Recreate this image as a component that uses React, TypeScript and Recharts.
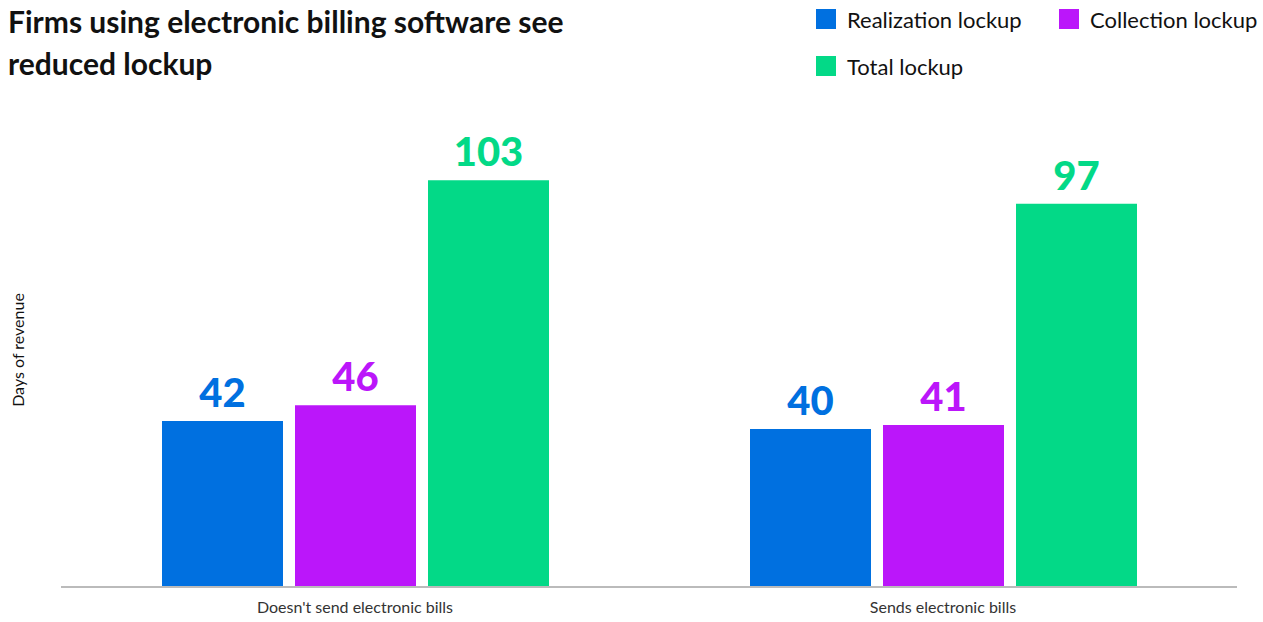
import React from 'react';
import { BarChart, Bar, XAxis, YAxis, Legend, LabelList } from 'recharts';

const categories = ["Doesn't send electronic bills", 'Sends electronic bills'];
const realizationLockup = [42, 40];
const collectionLockup = [46, 41];
const totalLockup = [103, 97];

const series = [
  { key: 'realization', name: 'Realization lockup', color: '#0070E0', values: realizationLockup },
  { key: 'collection', name: 'Collection lockup', color: '#BB16FA', values: collectionLockup },
  { key: 'total', name: 'Total lockup', color: '#03D987', values: totalLockup },
];

const data = categories.map((name, i) => ({
  name,
  realization: realizationLockup[i],
  collection: collectionLockup[i],
  total: totalLockup[i],
}));

const FONT = 'Lato, "Open Sans", sans-serif';

const LegendBox = () => (
  <div style={{ display: 'grid', gridTemplateColumns: '243px 200px', rowGap: 27, fontFamily: FONT }}>
    {series.map((s) => (
      <div key={s.key} style={{ display: 'flex', alignItems: 'center', height: 20 }}>
        <span style={{ width: 20, height: 20, background: s.color, display: 'inline-block', marginRight: 11 }} />
        <span style={{ fontSize: 22, color: '#111', whiteSpace: 'nowrap' }}>{s.name}</span>
      </div>
    ))}
  </div>
);

const App: React.FC = () => {
  return (
    <div style={{ position: 'absolute', left: 0, top: 0, width: 1263, height: 622, background: '#fff', fontFamily: FONT }}>
      <div
        style={{
          position: 'absolute',
          left: 8,
          top: 0,
          fontSize: 30,
          fontWeight: 700,
          lineHeight: '42px',
          color: '#111',
          width: 640,
        }}
      >
        Firms using electronic billing software see
        <br />
        reduced lockup
      </div>
      <BarChart
        width={1263}
        height={622}
        data={data}
        margin={{ top: 113, right: 26, bottom: 5, left: 21 }}
        barGap={12}
      >
        <XAxis
          dataKey="name"
          axisLine={{ stroke: '#bbb', strokeWidth: 2 }}
          tickLine={false}
          tick={{ fill: '#333', fontSize: 16, fontFamily: FONT }}
          tickMargin={9}
          height={30}
        />
        <YAxis
          width={40}
          domain={[0, 120]}
          tick={false}
          axisLine={false}
          tickLine={false}
          label={{
            value: 'Days of revenue',
            angle: -90,
            position: 'insideLeft',
            offset: -3,
            style: { fill: '#111', fontSize: 16, fontFamily: FONT, textAnchor: 'middle' },
          }}
        />
        <Legend
          layout="vertical"
          align="center"
          verticalAlign="middle"
          content={<LegendBox />}
          wrapperStyle={{ position: 'absolute', top: 9, left: 816, width: 445 }}
        />
        {series.map((s) => (
          <Bar key={s.key} dataKey={s.key} name={s.name} fill={s.color} barSize={121} isAnimationActive={false}>
            <LabelList
              dataKey={s.key}
              position="top"
              offset={14}
              style={{ fill: s.color, fontSize: 40, fontWeight: 900, fontFamily: FONT }}
            />
          </Bar>
        ))}
      </BarChart>
    </div>
  );
};

export default App;
